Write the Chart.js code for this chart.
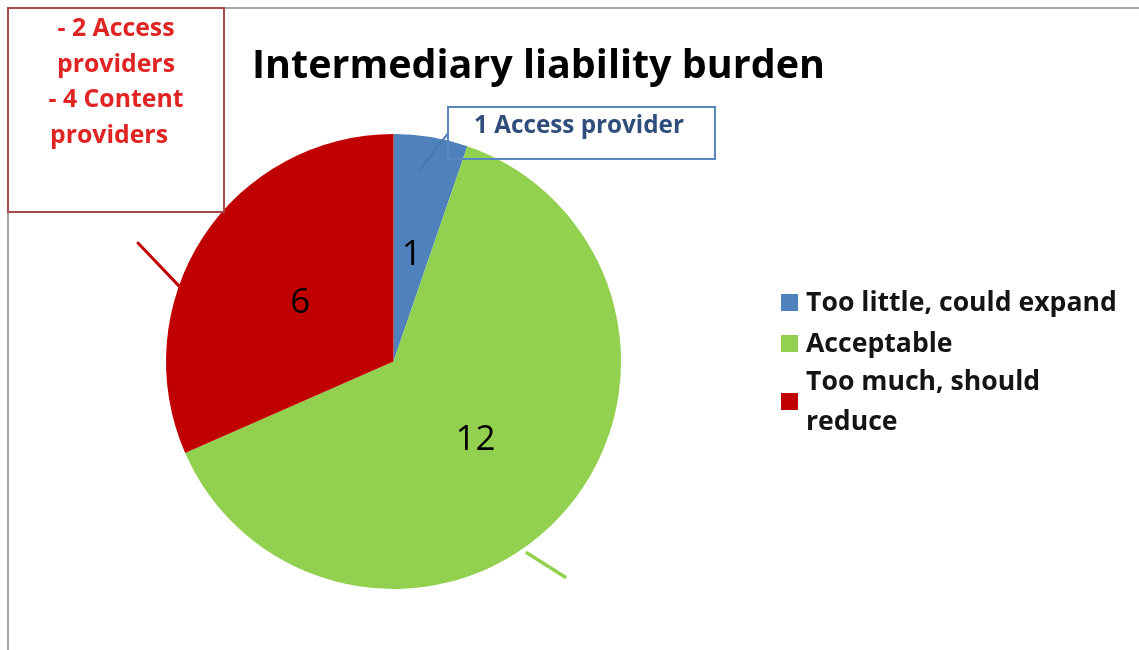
<!DOCTYPE html>
<html>
<head>
<meta charset="utf-8">
<title>Intermediary liability burden</title>
<script src="https://cdn.jsdelivr.net/npm/chart.js@4"></script>
<style>
  html, body { margin: 0; padding: 0; background: #ffffff; }
  #wrap { width: 1139px; height: 650px; position: relative; }
</style>
</head>
<body>
<div id="wrap"><canvas id="myChart" width="1139" height="650"></canvas></div>
<script>
// chart data
const categories = ["Too little, could expand", "Acceptable", "Too much, should reduce"];
const legendLines = [["Too little, could expand"], ["Acceptable"], ["Too much, should", "reduce"]];
const answers = [1, 12, 6];
const sliceColors = ["#4F81BD", "#92D050", "#C00000"];
const chartTitle = "Intermediary liability burden";
const redNote = ["- 2 Access", "providers", "- 4 Content", "providers"];
const blueNote = "1 Access provider";

const FONT = "'Open Sans', 'Noto Sans', sans-serif";

// font size that makes text fill a given width
function fitSize(ctx, text, weight, width) {
  ctx.font = weight + " 100px " + FONT;
  return 100 * width / ctx.measureText(text).width;
}

// draws title, callouts, slice values and legend on top of the pie
const decorations = {
  id: "decorations",
  afterDraw(chart) {
    const ctx = chart.ctx;
    const meta = chart.getDatasetMeta(0);
    const first = meta.data[0];
    const cx = first.x, cy = first.y, R = first.outerRadius;
    ctx.save();

    // outer frame (top and left edge)
    ctx.strokeStyle = "#a6a6a6";
    ctx.lineWidth = 2;
    ctx.beginPath();
    ctx.moveTo(8, 650);
    ctx.lineTo(8, 8);
    ctx.lineTo(1139, 8);
    ctx.stroke();

    // title
    let size = fitSize(ctx, chartTitle, "bold", 573);
    ctx.font = "bold " + size + "px " + FONT;
    ctx.fillStyle = "#000000";
    ctx.textAlign = "left";
    ctx.textBaseline = "middle";
    ctx.fillText(chartTitle, 252, 67);

    // slice values
    ctx.font = "normal 35px " + FONT;
    ctx.textAlign = "center";
    meta.data.forEach((arc, i) => {
      const mid = (arc.startAngle + arc.endAngle) / 2;
      ctx.fillStyle = "#000000";
      ctx.fillText(String(answers[i]), cx + Math.cos(mid) * R * 0.49, cy + Math.sin(mid) * R * 0.49 + 3);
    });

    // leader lines
    const line = (color, w, a, b) => {
      ctx.strokeStyle = color;
      ctx.lineWidth = w;
      ctx.lineCap = "round";
      ctx.beginPath();
      ctx.moveTo(cx + a[0] * R, cy + a[1] * R);
      ctx.lineTo(cx + b[0] * R, cy + b[1] * R);
      ctx.stroke();
    };
    line("#C00000", 3, [-1.123, -0.521], [-0.938, -0.327]);
    line("#92D050", 3.5, [0.587, 0.842], [0.754, 0.947]);
    line("#4A78AE", 2, [0.116, -0.842], [0.240, -1.004]);

    // red note box
    ctx.lineCap = "butt";
    ctx.strokeStyle = "#A84A4A";
    ctx.lineWidth = 2;
    ctx.strokeRect(8, 8, 216, 204);
    size = fitSize(ctx, "- 4 Content", "bold", 135);
    ctx.font = "bold " + size + "px " + FONT;
    ctx.fillStyle = "#E02323";
    ctx.textAlign = "center";
    const noteX = [116, 116, 116, 109];
    redNote.forEach((t, i) => ctx.fillText(t, noteX[i], 29 + i * 35.5));

    // blue note box
    ctx.strokeStyle = "#5B87BF";
    ctx.lineWidth = 2;
    ctx.strokeRect(448, 107, 267, 52);
    size = fitSize(ctx, blueNote, "bold", 210);
    ctx.font = "bold " + size + "px " + FONT;
    ctx.fillStyle = "#2F4E7B";
    ctx.fillText(blueNote, 579, 126);

    // legend
    size = fitSize(ctx, legendLines[0][0], "bold", 311);
    ctx.font = "bold " + size + "px " + FONT;
    ctx.textAlign = "left";
    const rowY = [[303], [344], [382, 422]];
    legendLines.forEach((lines, i) => {
      const ys = rowY[i];
      const sq = (ys[0] + ys[ys.length - 1]) / 2;
      ctx.fillStyle = sliceColors[i];
      ctx.fillRect(781, sq - 9, 17, 17);
      ctx.fillStyle = "#141414";
      lines.forEach((t, j) => ctx.fillText(t, 806, ys[j]));
    });

    ctx.restore();
  }
};

const graphCanvas = document.getElementById("myChart").getContext("2d");
const graph = new Chart(graphCanvas, {
  type: "pie",
  data: {
    labels: categories,
    datasets: [{
      data: answers,
      backgroundColor: sliceColors,
      borderWidth: 0,
    }],
  },
  options: {
    responsive: false,
    animation: false,
    layout: {
      padding: { top: 134, bottom: 61, left: 166, right: 518 },
    },
    plugins: {
      legend: { display: false },
      title: { display: false },
      tooltip: { enabled: false },
    },
  },
  plugins: [decorations],
});
</script>
</body>
</html>
